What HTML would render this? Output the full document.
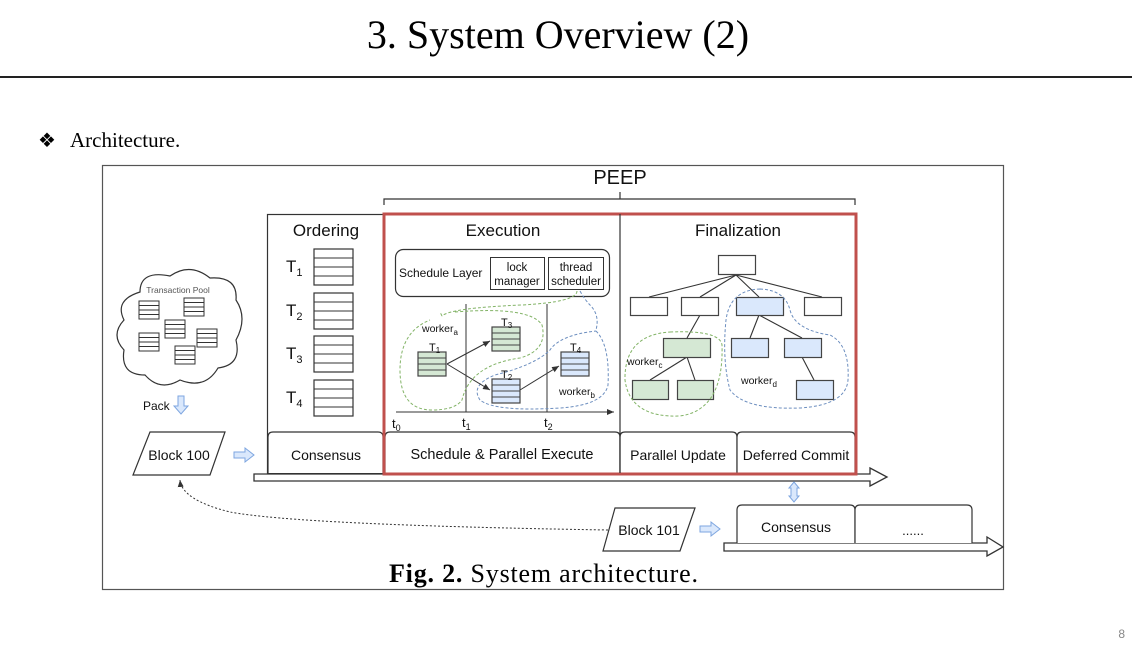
<!DOCTYPE html>
<html><head><meta charset="utf-8"><style>
html,body{margin:0;padding:0;background:#fff;}
svg{display:block;}
.s{font-family:"Liberation Sans",sans-serif;fill:#111;}
.r{font-family:"Liberation Serif",serif;fill:#000;}
</style></head><body>
<svg width="1132" height="649" viewBox="0 0 1132 649" xmlns="http://www.w3.org/2000/svg">
<defs>
<g id="mb"><rect x="0" y="0" width="20" height="18" fill="#fff" stroke="#333" stroke-width="1"/><path d="M0 4.5H20M0 9H20M0 13.5H20" stroke="#333" stroke-width="1"/></g>
<g id="ob"><rect x="0" y="0" width="39" height="36" fill="#fff" stroke="#333" stroke-width="1.2"/><path d="M0 9H39M0 18H39M0 27H39" stroke="#333" stroke-width="1"/></g>
<g id="gb"><rect x="0" y="0" width="28" height="24" fill="#d5e8d4" stroke="#444" stroke-width="1.2"/><path d="M0 6H28M0 12H28M0 18H28" stroke="#444" stroke-width="1"/></g>
<g id="bb"><rect x="0" y="0" width="28" height="24" fill="#dae8fc" stroke="#444" stroke-width="1.2"/><path d="M0 6H28M0 12H28M0 18H28" stroke="#444" stroke-width="1"/></g>
<marker id="ah" markerWidth="8" markerHeight="8" refX="7" refY="4" orient="auto"><path d="M0,1 L7,4 L0,7 z" fill="#333"/></marker>
</defs>
<text x="558" y="48" text-anchor="middle" class="r" font-size="40">3. System Overview (2)</text>
<rect x="0" y="76" width="1132" height="2" fill="#222"/>
<text x="38" y="147" class="r" font-size="20">❖</text>
<text x="70" y="147" class="r" font-size="21">Architecture.</text>
<text x="1125" y="638" text-anchor="end" class="s" font-size="12" style="fill:#888">8</text>

<rect x="102.5" y="165.5" width="901" height="424" fill="#fff" stroke="#555" stroke-width="1.2"/>
<text x="620" y="184" text-anchor="middle" class="s" font-size="20">PEEP</text>
<path d="M384 205V199H855V205M620 199V192" fill="none" stroke="#333" stroke-width="1.2"/>

<path d="M254 474H870V468L887 477L870 486V481H254Z" fill="#fff" stroke="#333" stroke-width="1.3"/>
<path d="M724 543H987V537L1003 547L987 556V551H724Z" fill="#fff" stroke="#333" stroke-width="1.3"/>

<rect x="267.5" y="214.5" width="117" height="259" fill="#fff" stroke="#333" stroke-width="1.2"/>
<text x="326" y="236" text-anchor="middle" class="s" font-size="17">Ordering</text>
<text x="286" y="272" class="s" font-size="17">T<tspan font-size="11" dy="4">1</tspan></text>
<text x="286" y="316" class="s" font-size="17">T<tspan font-size="11" dy="4">2</tspan></text>
<text x="286" y="359" class="s" font-size="17">T<tspan font-size="11" dy="4">3</tspan></text>
<text x="286" y="403" class="s" font-size="17">T<tspan font-size="11" dy="4">4</tspan></text>
<use href="#ob" x="314" y="249"/><use href="#ob" x="314" y="293"/><use href="#ob" x="314" y="336"/><use href="#ob" x="314" y="380"/>

<path d="M268 473V437Q268 432 273 432H378Q383 432 383 437V473" fill="#fff" stroke="#333" stroke-width="1.2"/>
<text x="326" y="460" text-anchor="middle" class="s" font-size="14">Consensus</text>
<path d="M385 473V437Q385 432 390 432H615Q620 432 620 437V473" fill="#fff" stroke="#333" stroke-width="1.2"/>
<text x="502" y="459" text-anchor="middle" class="s" font-size="14.5">Schedule &amp; Parallel Execute</text>
<path d="M620 473V437Q620 432 625 432H732Q737 432 737 437V473" fill="#fff" stroke="#333" stroke-width="1.2"/>
<text x="678" y="460" text-anchor="middle" class="s" font-size="14">Parallel Update</text>
<path d="M737 473V437Q737 432 742 432H850Q855 432 855 437V473" fill="#fff" stroke="#333" stroke-width="1.2"/>
<text x="796" y="460" text-anchor="middle" class="s" font-size="14">Deferred Commit</text>

<rect x="384" y="214" width="472" height="260" fill="none" stroke="#c0504d" stroke-width="3"/>
<line x1="620" y1="214" x2="620" y2="473" stroke="#333" stroke-width="1.2"/>
<text x="503" y="236" text-anchor="middle" class="s" font-size="17">Execution</text>
<text x="738" y="236" text-anchor="middle" class="s" font-size="17">Finalization</text>

<rect x="395.5" y="249.5" width="214" height="47" rx="8" fill="#fff" stroke="#333" stroke-width="1.2"/>
<text x="399" y="277" class="s" font-size="12">Schedule Layer</text>
<rect x="490.5" y="257.5" width="54" height="32" fill="#fff" stroke="#333"/>
<text x="517" y="271" text-anchor="middle" class="s" font-size="11.5">lock</text>
<text x="517" y="285" text-anchor="middle" class="s" font-size="11.5">manager</text>
<rect x="548.5" y="257.5" width="55" height="32" fill="#fff" stroke="#333"/>
<text x="576" y="271" text-anchor="middle" class="s" font-size="11.5">thread</text>
<text x="576" y="285" text-anchor="middle" class="s" font-size="11.5">scheduler</text>

<line x1="396" y1="412" x2="614" y2="412" stroke="#333" marker-end="url(#ah)"/>
<line x1="466" y1="304" x2="466" y2="412" stroke="#333"/>
<line x1="547" y1="304" x2="547" y2="412" stroke="#333"/>
<text x="392" y="428" class="s" font-size="13">t<tspan font-size="9" dy="3">0</tspan></text>
<text x="462" y="427" class="s" font-size="13">t<tspan font-size="9" dy="3">1</tspan></text>
<text x="544" y="427" class="s" font-size="13">t<tspan font-size="9" dy="3">2</tspan></text>
<path d="M577 291Q577 302 522 305Q450 308 442 316 M442 316L440 312" fill="none" stroke="#82b366" stroke-width="1" stroke-dasharray="3,2"/>
<path d="M455 312Q530 306 542 325Q548 350 520 358Q470 365 462 400Q455 410 432 410Q400 410 400 370Q400 332 430 320" fill="none" stroke="#82b366" stroke-width="1" stroke-dasharray="3,2"/>
<path d="M580 291Q585 300 590 305Q600 315 596 330" fill="none" stroke="#6c8ebf" stroke-width="1" stroke-dasharray="3,2"/>
<path d="M596 331Q610 345 608 385Q604 405 560 408Q495 412 480 400Q470 385 495 375Q535 365 550 350Q560 335 596 331" fill="none" stroke="#6c8ebf" stroke-width="1" stroke-dasharray="3,2"/>
<text x="422" y="332" class="s" font-size="10.5">worker<tspan font-size="8" dy="3">a</tspan></text>
<text x="559" y="395" class="s" font-size="10.5">worker<tspan font-size="8" dy="3">b</tspan></text>
<line x1="447" y1="364" x2="490" y2="341" stroke="#333" marker-end="url(#ah)"/>
<line x1="447" y1="364" x2="490" y2="390" stroke="#333" marker-end="url(#ah)"/>
<line x1="520" y1="390" x2="559" y2="366" stroke="#333" marker-end="url(#ah)"/>
<use href="#gb" x="418" y="352"/><use href="#gb" x="492" y="327"/><use href="#bb" x="492" y="379"/><use href="#bb" x="561" y="352"/>
<text x="429" y="351" class="s" font-size="11">T<tspan font-size="8" dy="2">1</tspan></text>
<text x="501" y="326" class="s" font-size="11">T<tspan font-size="8" dy="2">3</tspan></text>
<text x="501" y="378" class="s" font-size="11">T<tspan font-size="8" dy="2">2</tspan></text>
<text x="570" y="351" class="s" font-size="11">T<tspan font-size="8" dy="2">4</tspan></text>

<g stroke="#333" stroke-width="1.1">
<line x1="736" y1="275" x2="649" y2="297"/><line x1="736" y1="275" x2="700" y2="297"/><line x1="736" y1="275" x2="759" y2="297"/><line x1="736" y1="275" x2="822" y2="297"/>
<line x1="700" y1="315" x2="687" y2="338"/><line x1="759" y1="315" x2="750" y2="338"/><line x1="759" y1="315" x2="802" y2="338"/>
<line x1="687" y1="357" x2="650" y2="380"/><line x1="687" y1="357" x2="695" y2="380"/><line x1="802" y1="357" x2="814" y2="380"/>
</g>
<g stroke="#444" stroke-width="1.2">
<rect x="718.5" y="255.5" width="37" height="19" fill="#fff"/>
<rect x="630.5" y="297.5" width="37" height="18" fill="#fff"/>
<rect x="681.5" y="297.5" width="37" height="18" fill="#fff"/>
<rect x="736.5" y="297.5" width="47" height="18" fill="#dae8fc"/>
<rect x="804.5" y="297.5" width="37" height="18" fill="#fff"/>
<rect x="663.5" y="338.5" width="47" height="19" fill="#d5e8d4"/>
<rect x="731.5" y="338.5" width="37" height="19" fill="#dae8fc"/>
<rect x="784.5" y="338.5" width="37" height="19" fill="#dae8fc"/>
<rect x="632.5" y="380.5" width="36" height="19" fill="#d5e8d4"/>
<rect x="677.5" y="380.5" width="36" height="19" fill="#d5e8d4"/>
<rect x="796.5" y="380.5" width="37" height="19" fill="#dae8fc"/>
</g>
<path d="M670 332Q720 330 722 345Q724 410 680 416Q630 418 625 380Q624 335 670 332Z" fill="none" stroke="#82b366" stroke-dasharray="3,2"/>
<path d="M760 289Q785 290 790 310Q795 330 830 335Q850 345 848 380Q846 405 800 408Q745 410 730 390Q722 360 726 320Q730 290 760 289Z" fill="none" stroke="#6c8ebf" stroke-dasharray="3,2"/>
<text x="627" y="365" class="s" font-size="10.5">worker<tspan font-size="8" dy="3">c</tspan></text>
<text x="741" y="384" class="s" font-size="10.5">worker<tspan font-size="8" dy="3">d</tspan></text>

<path d="M140 292Q140 270 170 276Q190 262 210 278Q238 276 236 300Q248 318 236 340Q242 365 218 368Q205 390 180 380Q160 392 145 375Q120 375 124 350Q110 335 124 320Q114 300 140 292Z" fill="#fff" stroke="#333" stroke-width="1.2"/>
<text x="178" y="293" text-anchor="middle" class="s" font-size="8.5" style="fill:#555">Transaction Pool</text>
<use href="#mb" x="139" y="301"/><use href="#mb" x="184" y="298"/><use href="#mb" x="165" y="320"/><use href="#mb" x="139" y="333"/><use href="#mb" x="197" y="329"/><use href="#mb" x="175" y="346"/>
<text x="143" y="410" class="s" font-size="12">Pack</text>
<path d="M178 396H184V406H188L181 414L174 406H178Z" fill="#dae8fc" stroke="#7ea6e0"/>

<path d="M150 432H225L210 475H133Z" fill="#fff" stroke="#333" stroke-width="1.2"/>
<text x="179" y="460" text-anchor="middle" class="s" font-size="14">Block 100</text>
<path d="M234 452H245V448L254 455L245 462V458H234Z" fill="#dae8fc" stroke="#7ea6e0"/>
<path d="M615 508H695L680 551H603Z" fill="#fff" stroke="#333" stroke-width="1.2"/>
<text x="649" y="535" text-anchor="middle" class="s" font-size="14">Block 101</text>
<path d="M700 526H711V522L720 529L711 536V532H700Z" fill="#dae8fc" stroke="#7ea6e0"/>
<path d="M608 530Q300 525 230 512Q182 500 180 480" fill="none" stroke="#333" stroke-dasharray="2,2" marker-end="url(#ah)"/>
<path d="M794 482L799 488H797V496H799L794 502L789 496H791V488H789Z" fill="#dae8fc" stroke="#7ea6e0"/>
<path d="M737 543V510Q737 505 742 505H850Q855 505 855 510V543" fill="#fff" stroke="#333" stroke-width="1.2"/>
<text x="796" y="532" text-anchor="middle" class="s" font-size="14">Consensus</text>
<path d="M855 543V510Q855 505 860 505H967Q972 505 972 510V543" fill="#fff" stroke="#333" stroke-width="1.2"/>
<text x="913" y="535" text-anchor="middle" class="s" font-size="13">......</text>

<text x="389" y="582" class="r" font-size="26" letter-spacing="0.8"><tspan font-weight="bold">Fig. 2.</tspan>  System architecture.</text>
</svg>
</body></html>
